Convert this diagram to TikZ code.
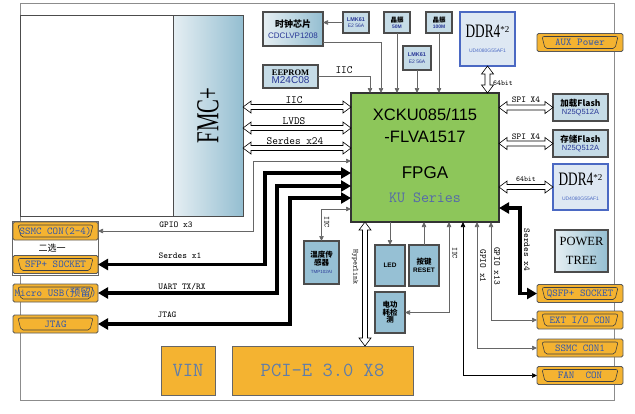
\documentclass[tikz,border=0pt]{standalone}
\usepackage{fontspec}
\usepackage{graphicx}
\usetikzlibrary{positioning,calc,arrows.meta}
\newfontfamily\cjk{Noto Sans CJK SC}
\newfontfamily\sansf{Liberation Sans}
\newfontfamily\serf{Liberation Serif}
\newcommand\fs[1]{\fontsize{#1}{#1}\selectfont}
\definecolor{fpgagreen}{RGB}{141,198,90}
\definecolor{conorange}{RGB}{244,179,49}
\definecolor{context}{RGB}{45,85,175}
\definecolor{vinblue}{RGB}{95,125,170}
\definecolor{chipblue}{RGB}{150,192,212}
\definecolor{chiplight}{RGB}{198,220,231}
\definecolor{chipink}{RGB}{40,55,150}
\definecolor{ddrfill}{RGB}{222,232,243}
\definecolor{ddrline}{RGB}{75,105,195}
\definecolor{fmcleft}{RGB}{230,239,243}
\definecolor{fmcright}{RGB}{148,190,209}
\definecolor{kublue}{RGB}{85,105,170}
\tikzset{box/.style={draw=black!70, line width=1.1pt, inner sep=0.5pt, outer sep=0pt, align=center}}
\tikzset{chip/.style={box, fill=chipblue}}
\tikzset{osc/.style={box, fill=chiplight, minimum width=26pt, minimum height=21pt, text=chipink}}
\tikzset{flash/.style={box, fill=chiplight, minimum width=55pt, minimum height=27pt}}
\tikzset{ddrbox/.style={box, draw=ddrline, fill=ddrfill, minimum width=55pt}}
\tikzset{shade box/.style={box, left color=fmcleft, right color=fmcright}}
\tikzset{conn/.style={draw=black!65, line width=0.8pt, fill=conorange, rounded corners=1.5pt, minimum width=86pt, minimum height=18pt, inner sep=0pt, outer sep=0pt, text=context, font=\ttfamily\fs{10.5},
	path picture={\draw[black!75, line width=0.6pt, rounded corners=2pt]
		($(path picture bounding box.north west)+(5,3)$) -- ($(path picture bounding box.north east)+(-5,3)$)
		-- ($(path picture bounding box.south east)+(-8,-3)$) -- ($(path picture bounding box.south west)+(8,-3)$) -- cycle;}}}
\tikzset{supply/.style={draw=black!60, line width=0.8pt, fill=conorange, minimum height=49pt, outer sep=0pt, text=vinblue, font=\ttfamily\fs{20}}}
\tikzset{sig/.style={draw=black!60, line width=0.7pt}}
\tikzset{bus/.style={draw=black, line width=3.5pt, >={Triangle[length=10pt,width=11pt]}, <->}}
\tikzset{fatarr/.style={draw=black, fill=white, line width=0.6pt}}
\tikzset{lbl/.style={inner sep=0pt, font=\ttfamily\fs{9}}}
\tikzset{vlbl/.style={lbl, rotate=-90}}
\newcommand\hfat[2]{\draw[fatarr] (#1) -- ++(8,-6) -- ++(0,3.5) -- ($(#2)+(-8,-2.5)$) -- ++(0,-3.5) -- (#2)
	-- ++(-8,6) -- ++(0,-3.5) -- ($(#1)+(8,2.5)$) -- ++(0,3.5) -- cycle;}
\newcommand\vfat[2]{\draw[fatarr] (#1) -- ++(-6,8) -- ++(3.5,0) -- ($(#2)+(-2.5,-8)$) -- ++(-3.5,0) -- (#2)
	-- ++(6,-8) -- ++(-3.5,0) -- ($(#1)+(2.5,8)$) -- ++(3.5,0) -- cycle;}
\newcommand\ddrlabel{\scalebox{0.7}[1]{\serf\fs{19}DDR4}{\serf\fs{9}\raisebox{5pt}{*2}}\\[3pt]{\sansf\fs{5}\color{ddrline}UD4080G55AF1}}
\begin{document}
\begin{tikzpicture}[x=1pt, y=-1pt, >={Triangle[length=5pt,width=4.5pt]}]
	\useasboundingbox (0,0) rectangle (635,413);
	% board and FMC card
	\draw[draw=black!45, line width=0.8pt] (20,3) rectangle (614,400);
	\draw[draw=black!70, line width=0.8pt, fill=white] (20,15) rectangle (173,216);
	\node[shade box, line width=0.8pt, minimum width=70pt, minimum height=201pt, anchor=north west] (fmc) at (173,15) {};
	\node[rotate=90] (fmcname) at (fmc.center) {\scalebox{0.65}[1]{\serf\fs{32}FMC+}};

	% FPGA
	\node[box, draw=black!80, fill=fpgagreen, minimum width=148pt, minimum height=129pt] (fpga) at (425,157.5) {};
	\node[font=\sansf\fs{16.5}] (fpgaA) at ($(fpga.north)+(0,22)$) {XCKU085/115};
	\node[font=\sansf\fs{16.5}] (fpgaB) at ($(fpga.north)+(0,44)$) {-FLVA1517};
	\node[font=\sansf\fs{17}] (fpgaC) at ($(fpga.north)+(0,80)$) {FPGA};
	\node[font=\ttfamily\fs{15.5}, text=kublue] (fpgaD) at ($(fpga.north)+(0,105)$) {KU Series};

	% clocks, eeprom, top DDR
	\node[shade box, minimum width=60pt, minimum height=34pt, font=\cjk\bfseries\fs{9}] (clk) at (293,29)
		{时钟芯片\\[2pt]{\sansf\mdseries\fs{8}\color{chipink}CDCLVP1208}};
	\node[box, fill=chiplight, minimum width=55pt, minimum height=23pt, font=\serf\bfseries\fs{8.5}] (eeprom) at (290.5,76.5)
		{EEPROM\\{\sansf\mdseries\fs{10}\color{chipink}M24C08}};
	\node[osc, font=\sansf\bfseries\fs{5.5}] (lmkA) at (356,22.5) {LMK61\\[1pt]{\mdseries\fs{5}E2 56A}};
	\node[osc, font=\cjk\bfseries\fs{6.5}] (osc50) at (397,22.5) {{\color{black}晶振}\\{\sansf\fs{5}50M}};
	\node[osc, font=\cjk\bfseries\fs{6.5}] (osc100) at (439,22.5) {{\color{black}晶振}\\{\sansf\fs{5}100M}};
	\node[osc, minimum width=28pt, minimum height=24pt, font=\sansf\bfseries\fs{5.5}] (lmkB) at (417,58) {LMK61\\[1pt]{\mdseries\fs{5}E2 56A}};
	\node[ddrbox, minimum height=54pt] (ddrT) at (487.5,39) {\ddrlabel};

	% right column
	\node[conn] (aux) at (580,42.5) {AUX Power};
	\node[flash, font=\cjk\bfseries\fs{8.5}] (flashA) at (580.5,107.5) {加载Flash\\{\sansf\mdseries\fs{7.5}\color{chipink}N25Q512A}};
	\node[flash, font=\cjk\bfseries\fs{8.5}, below=9pt of flashA] (flashB) {存储Flash\\{\sansf\mdseries\fs{7.5}\color{chipink}N25Q512A}};
	\node[ddrbox, minimum height=46pt] (ddrR) at (580.5,187) {\ddrlabel};
	\node[shade box, minimum width=53pt, minimum height=42pt, font=\serf\fs{12.5}] (ptree) at (581.5,251) {POWER\\[6pt]TREE};
	\node[conn] (qsfp) at (580,293.5) {QSFP+ SOCKET};
	\node[conn, below=8.5pt of qsfp] (ext) {EXT I/O CON};
	\node[conn, below=10pt of ext] (ssmcR) {SSMC CON1};
	\node[conn, below=9.5pt of ssmcR] (fan) {FAN\ \ CON};

	% left connectors
	\draw[draw=black!60, line width=0.8pt, fill=white] (12,221) rectangle (98.5,275.5);
	\node[conn, minimum width=85pt] (ssmcL) at (55.5,231) {SSMC CON(2-4)};
	\node[conn, minimum width=85pt] (sfpL) at (55.5,264.5) {SFP+ SOCKET};
	\node[font=\cjk\fs{9}] (pick) at (52,248) {二选一};
	\node[conn, minimum width=85pt] (usbL) at (55.5,293) {Micro USB({\cjk 预留})};
	\node[conn, minimum width=85pt] (jtagL) at (55.5,324) {JTAG};

	% under the FPGA
	\node[chip, minimum width=35pt, minimum height=43pt, font=\cjk\bfseries\fs{7.5}] (temp) at (321.5,262.5)
		{温度传\\感器\\[1pt]{\sansf\mdseries\fs{4.5}\color{chipink}TMP102AI}};
	\node[chip, minimum width=30pt, minimum height=41pt, font=\sansf\bfseries\fs{6.5}] (led) at (390,265.5) {LED};
	\node[chip, minimum width=30pt, minimum height=41pt, font=\cjk\bfseries\fs{7.5}, right=4pt of led] (reset) {按键\\{\sansf\fs{6.5}RESET}};
	\node[chip, minimum width=30pt, minimum height=41pt, font=\cjk\bfseries\fs{7.5}, below=6pt of led] (pwr) {电功\\耗检\\测};
	\node[supply, minimum width=54pt] (vin) at (188,370.5) {VIN};
	\node[supply, minimum width=181pt] (pcie) at (322.5,370.5) {PCI-E 3.0 X8};

	% wide buses
	\hfat{fmc.east |- 0,107}{fpga.west |- 0,107}
	\hfat{fmc.east |- 0,128}{fpga.west |- 0,128}
	\hfat{fmc.east |- 0,148}{fpga.west |- 0,148}
	\hfat{fpga.east |- flashA.west}{flashA.west}
	\hfat{fpga.east |- flashB.west}{flashB.west}
	\hfat{fpga.east |- ddrR.west}{ddrR.west}
	\vfat{ddrT.south}{fpga.north -| ddrT.south}
	\vfat{fpga.south -| 365,0}{pcie.north -| 365,0}

	% top signals
	\draw[sig,->] (lmkA.west) -- (clk.east |- lmkA.west);
	\draw[sig,->] (clk.east |- 0,42) -| (fpga.north -| 381,0);
	\draw[sig,->] (eeprom.east) -| (fpga.north -| 370,0);
	\draw[sig,->] (osc50.south) -- (osc50.south |- fpga.north);
	\draw[sig,->] (lmkB.south) -- (lmkB.south |- fpga.north);
	\draw[sig,->] (osc100.south) -- (osc100.south |- fpga.north);

	% left signals
	\draw[sig,<->] (fpga.west |- 0,161) -| (ssmcL.east -| 253,0) -- (ssmcL.east);
	\draw[bus] (fpga.west |- 0,173) -| (sfpL.east -| 265,0) -- (sfpL.east);
	\draw[bus] (fpga.west |- 0,186) -| (usbL.east -| 277,0) -- (usbL.east);
	\draw[bus] (fpga.west |- 0,198) -| (jtagL.east -| 290,0) -- (jtagL.east);
	\draw[sig,<->] (fpga.west |- 0,209) -| (temp.north);

	% bottom and right signals
	\draw[sig,->] (fpga.south -| led.north) -- (led.north);
	\draw[sig,->] (reset.north) -- (fpga.south -| reset.north);
	\draw[sig,<->] (fpga.south -| 449,0) |- (pwr.east);
	\draw[sig,<->,draw=black] (fpga.south -| 463,0) |- (fan.west);
	\draw[sig,<->] (fpga.south -| 477,0) |- (ssmcR.west);
	\draw[sig,<->] (fpga.south -| 491,0) |- (ext.west);
	\draw[bus] (fpga.east |- 0,208) -| (qsfp.west -| 520,0) -- (qsfp.west);

	% labels
	\node[lbl, font=\ttfamily\fs{11}] (lIic) at (294,100.5) {IIC};
	\node[lbl, font=\ttfamily\fs{11}] (lLvds) at (294,121) {LVDS};
	\node[lbl, font=\ttfamily\fs{11}] (lSer24) at (295,141) {Serdes x24};
	\node[lbl, font=\ttfamily\fs{11}] (lIicE) at (344,70) {IIC};
	\node[lbl] (lGpio3) at (176,225) {GPIO x3};
	\node[lbl] (lSer1) at (180,256) {Serdes x1};
	\node[lbl] (lUart) at (182,287) {UART TX/RX};
	\node[lbl] (lJtag) at (167,315) {JTAG};
	\node[lbl] (lSpiA) at (526,100) {SPI X4};
	\node[lbl] (lSpiB) at (526,137) {SPI X4};
	\node[lbl, font=\ttfamily\fs{7.5}] (l64R) at (526,179) {64bit};
	\node[lbl, font=\ttfamily\fs{7.5}] (l64T) at (503,83) {64bit};
	\node[vlbl, font=\ttfamily\fs{7.5}] (lIicT) at (327,222) {IIC};
	\node[vlbl, font=\ttfamily\fs{7.5}] (lHyper) at (355,267) {Hyperlink};
	\node[vlbl, font=\ttfamily\fs{7.5}] (lIicP) at (455,253) {IIC};
	\node[vlbl] (lGpio1) at (483,266) {GPIO x1};
	\node[vlbl] (lGpio13) at (497,266) {GPIO x13};
	\node[vlbl] (lSer4) at (527,250) {Serdes x4};
\end{tikzpicture}
\end{document}
